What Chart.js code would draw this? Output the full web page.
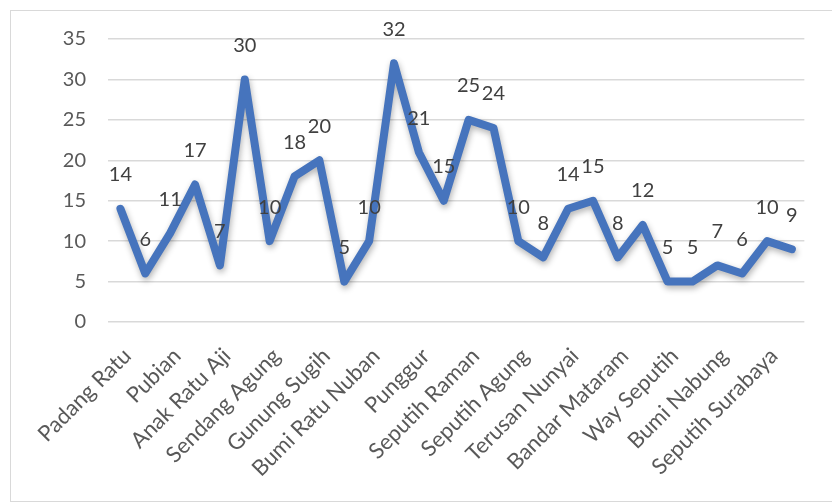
<!DOCTYPE html>
<html>
<head>
<meta charset="utf-8">
<style>
  html, body { margin: 0; padding: 0; background: #ffffff; }
  #wrap { position: relative; width: 832px; height: 504px; }
</style>
<script src="https://cdn.jsdelivr.net/npm/chart.js@4/dist/chart.umd.min.js"></script>
</head>
<body>
<div id="wrap"><canvas id="chart" width="832" height="504"></canvas></div>
<script>
// Kecamatan (districts), in order along the axis
const districts = [
  'Padang Ratu', 'Selagai Lingga', 'Pubian', 'Anak Tuha', 'Anak Ratu Aji',
  'Kalirejo', 'Sendang Agung', 'Bangun Rejo', 'Gunung Sugih', 'Bekri',
  'Bumi Ratu Nuban', 'Trimurjo', 'Punggur', 'Kota Gajah', 'Seputih Raman',
  'Terbanggi Besar', 'Seputih Agung', 'Way Pengubuan', 'Terusan Nunyai',
  'Seputih Mataram', 'Bandar Mataram', 'Seputih Banyak', 'Way Seputih',
  'Rumbia', 'Bumi Nabung', 'Putra Rumbia', 'Seputih Surabaya', 'Bandar Surabaya'
];

// Count per district
const counts = [
  14, 6, 11, 17, 7, 30, 10, 18, 20, 5,
  10, 32, 21, 15, 25, 24, 10, 8, 14, 15,
  8, 12, 5, 5, 7, 6, 10, 9
];

// Value axis ticks
const yTicks = [0, 5, 10, 15, 20, 25, 30, 35];

const FONT = 'Lato, "Open Sans", sans-serif';
const TEXT = '#595959';

// Thin frame around the whole chart
const framePlugin = {
  id: 'frame',
  beforeDraw(chart) {
    const ctx = chart.ctx;
    ctx.save();
    ctx.strokeStyle = '#d9d9d9';
    ctx.lineWidth = 1;
    ctx.strokeRect(10.5, 10.5, 840, 491);
    ctx.restore();
  }
};

// Soft shadow under the line
const shadowPlugin = {
  id: 'lineShadow',
  beforeDatasetDraw(chart) {
    const ctx = chart.ctx;
    ctx.save();
    ctx.shadowColor = 'rgba(0,0,0,0.30)';
    ctx.shadowBlur = 6;
    ctx.shadowOffsetX = 1;
    ctx.shadowOffsetY = 3;
  },
  afterDatasetDraw(chart) {
    chart.ctx.restore();
  }
};

// Value labels above each point
const valueLabels = {
  id: 'valueLabels',
  afterDatasetsDraw(chart) {
    const ctx = chart.ctx;
    const meta = chart.getDatasetMeta(0);
    const data = chart.data.datasets[0].data;
    ctx.save();
    ctx.font = '20px ' + FONT;
    ctx.fillStyle = '#404040';
    ctx.textAlign = 'center';
    ctx.textBaseline = 'middle';
    meta.data.forEach((pt, i) => {
      ctx.fillText(String(data[i]), pt.x, pt.y - 34);
    });
    ctx.restore();
  }
};

new Chart(document.getElementById('chart'), {
  type: 'line',
  data: {
    labels: districts,
    datasets: [{
      data: counts,
      borderColor: '#4674bd',
      borderWidth: 8,
      pointRadius: 0,
      tension: 0,
      borderJoinStyle: 'round',
      borderCapStyle: 'round',
      fill: false
    }]
  },
  options: {
    responsive: false,
    animation: false,
    devicePixelRatio: 1,
    layout: { padding: { top: 39, right: 24, left: 0, bottom: 0 } },
    plugins: {
      legend: { display: false },
      tooltip: { enabled: false }
    },
    scales: {
      x: {
        offset: true,
        grid: { display: false, drawTicks: false },
        border: { display: false },
        afterFit(scale) { scale.height = 182; },
        ticks: {
          autoSkip: false,
          maxRotation: 45,
          minRotation: 45,
          padding: 21,
          labelOffset: 7,
          color: TEXT,
          font: { family: FONT, size: 22 },
          callback(value, index) {
            return index % 2 === 0 ? this.getLabelForValue(value) : '';
          }
        }
      },
      y: {
        min: 0,
        max: 35,
        afterBuildTicks(scale) {
          scale.ticks = yTicks.map(v => ({ value: v }));
        },
        afterFit(scale) { scale.width = 108; },
        grid: { color: '#d9d9d9', lineWidth: 1.5, drawTicks: false },
        border: { display: false },
        ticks: {
          padding: 22,
          color: TEXT,
          font: { family: FONT, size: 20 }
        }
      }
    }
  },
  plugins: [framePlugin, shadowPlugin, valueLabels]
});
</script>
</body>
</html>
